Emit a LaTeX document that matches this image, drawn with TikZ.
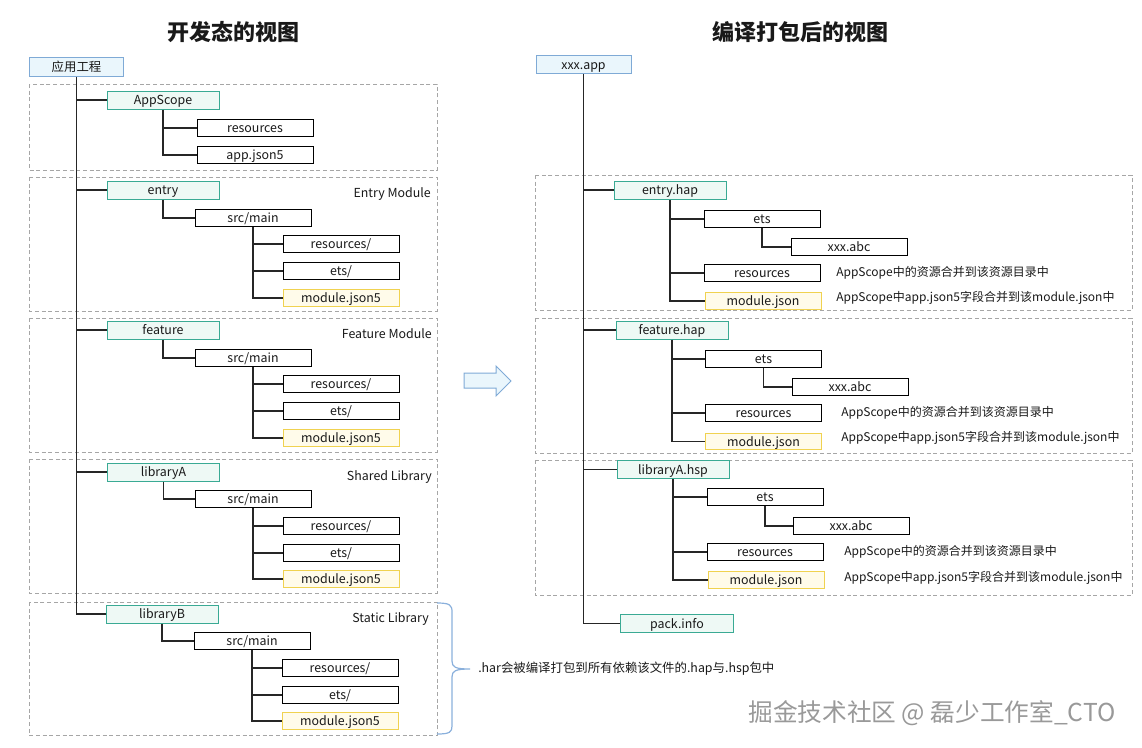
\documentclass[tikz,border=0pt]{standalone}
\usepackage{fontspec}
\setmainfont{Noto Sans CJK SC}
\definecolor{tealc}{HTML}{3AAA94}
\definecolor{greenf}{HTML}{EEF9F5}
\definecolor{yelc}{HTML}{F0D250}
\definecolor{yelf}{HTML}{FFFBEA}
\definecolor{bluec}{HTML}{7FAAD6}
\definecolor{bluef}{HTML}{EAF6FC}
\definecolor{bracec}{HTML}{8AB0DC}
\begin{document}
\begin{tikzpicture}[x=0.75pt,y=-0.75pt,
  every node/.style={font=\fontsize{9.3}{11}\selectfont, inner sep=0pt, text=black!90},
  boxtext/.style={text height=8pt, text depth=0.8pt},
  wbox/.style={boxtext, draw=black, fill=white, line width=0.75pt, minimum width=87pt, minimum height=12.5pt},
  gbox/.style={boxtext, draw=tealc, fill=greenf, line width=0.75pt, minimum width=84pt, minimum height=13.5pt},
  ybox/.style={boxtext, draw=yelc, fill=yelf, line width=0.75pt, minimum width=87pt, minimum height=12.5pt},
  bbox/.style={boxtext, draw=bluec, fill=bluef, line width=0.75pt, minimum height=14pt},
  grp/.style={draw=black!35, line width=0.6pt, dash pattern=on 3pt off 2pt},
  conn/.style={draw=black!85, line width=0.8pt},
  grplabel/.style={anchor=east},
  note/.style={anchor=west, font=\fontsize{9}{11}\selectfont},
  title/.style={font=\fontsize{16.5}{18}\selectfont\bfseries}
]
\useasboundingbox (0,0) rectangle (1142,747);

% titles
\node[title] (t1) at (233,32) {开发态的视图};
\node[title] (t2) at (800,32) {编译打包后的视图};

% ---------- left side ----------
\draw[grp] (29,84) rectangle (437,170);
\draw[grp] (29,177) rectangle (437,311);
\draw[grp] (29,318) rectangle (437,452);
\draw[grp] (29,459) rectangle (437,593);
\draw[grp] (29,602) rectangle (437,735);

\node[bbox, minimum width=70.5pt] (root) at (76.5,67) {应用工程};

% AppScope
\node[gbox] (appscope) at (163,100) {AppScope};
\node[wbox] (res1) at (255,128) {resources};
\node[wbox] (appjson) at (255,155) {app.json5};

% entry
\node[grplabel] (lbl1) at (431,194) {Entry Module};
\node[gbox] (entry) at (163,190) {entry};
\node[wbox] (src1) at (253,218) {src/main};
\node[wbox] (resd1) at (341,244) {resources/};
\node[wbox] (ets1) at (341,271) {ets/};
\node[ybox] (mod1) at (341,298) {module.json5};

% feature
\node[grplabel] (lbl2) at (432,334) {Feature Module};
\node[gbox] (feature) at (163,330) {feature};
\node[wbox] (src2) at (253,358) {src/main};
\node[wbox] (resd2) at (341,384) {resources/};
\node[wbox] (ets2) at (341,411) {ets/};
\node[ybox] (mod2) at (341,438) {module.json5};

% libraryA
\node[grplabel] (lbl3) at (432,477) {Shared Library};
\node[gbox] (libA) at (163.5,472) {libraryA};
\node[wbox] (src3) at (253,499) {src/main};
\node[wbox] (resd3) at (341,526) {resources/};
\node[wbox] (ets3) at (341,553) {ets/};
\node[ybox] (mod3) at (341,579) {module.json5};

% libraryB
\node[grplabel] (lbl4) at (429,619) {Static Library};
\node[gbox] (libB) at (162,614) {libraryB};
\node[wbox] (src4) at (252,641) {src/main};
\node[wbox] (resd4) at (340,668) {resources/};
\node[wbox] (ets4) at (340,695) {ets/};
\node[ybox] (mod4) at (340,721) {module.json5};

% left connectors
\draw[conn] (root.south) |- (libB.west);
\foreach \m in {appscope,entry,feature,libA}
  \draw[conn] (root.south |- \m.west) -- (\m.west);
\draw[conn] (appscope.south) |- (appjson.west);
\draw[conn] (appscope.south |- res1.west) -- (res1.west);
\foreach \a/\s/\r/\e/\mm in {entry/src1/resd1/ets1/mod1, feature/src2/resd2/ets2/mod2, libA/src3/resd3/ets3/mod3, libB/src4/resd4/ets4/mod4}{
  \draw[conn] (\a.south) |- (\s.west);
  \draw[conn] (\s.south) |- (\mm.west);
  \draw[conn] (\s.south |- \r.west) -- (\r.west);
  \draw[conn] (\s.south |- \e.west) -- (\e.west);
}

% brace + note
\draw[draw=bracec, line width=0.9pt]
  (437,603) .. controls (450,603) and (452,605) .. (452,612)
  -- (452,661) .. controls (452,667) and (455,669) .. (470,669)
  .. controls (455,669) and (452,671) .. (452,677)
  -- (452,726) .. controls (452,732) and (450,734) .. (437,734);
\node[note, font=\fontsize{9.3}{11}\selectfont] (harnote) at (478,669) {.har会被编译打包到所有依赖该文件的.hap与.hsp包中};

% middle arrow
\draw[draw=bluec, fill=bluef, line width=0.75pt]
  (464,373) -- (496,373) -- (496,366) -- (511,381) -- (496,396) -- (496,388) -- (464,388) -- cycle;

% ---------- right side ----------
\draw[grp] (535,175) rectangle (1132,310);
\draw[grp] (535,318) rectangle (1132,453);
\draw[grp] (535,460) rectangle (1132,595);

\node[bbox, minimum width=71.25pt] (app) at (583.5,64.5) {xxx.app};

% entry.hap
\node[gbox] (entryhap) at (670,190) {entry.hap};
\node[wbox] (etsA) at (762,219) {ets};
\node[wbox] (abcA) at (849,247) {xxx.abc};
\node[wbox] (resA) at (762,273) {resources};
\node[ybox] (modA) at (763,301) {module.json};
\node[note] (nA1) at (836,273) {AppScope中的资源合并到该资源目录中};
\node[note] (nA2) at (836,298) {AppScope中app.json5字段合并到该module.json中};

% feature.hap
\node[gbox] (featurehap) at (672,330) {feature.hap};
\node[wbox] (etsB) at (763.5,359) {ets};
\node[wbox] (abcB) at (850,387) {xxx.abc};
\node[wbox] (resB) at (763.5,413) {resources};
\node[ybox] (modB) at (763.5,441.5) {module.json};
\node[note] (nB1) at (841,413) {AppScope中的资源合并到该资源目录中};
\node[note] (nB2) at (841,438) {AppScope中app.json5字段合并到该module.json中};

% libraryA.hsp
\node[gbox] (libAhsp) at (673,469.5) {libraryA.hsp};
\node[wbox] (etsC) at (765,497) {ets};
\node[wbox] (abcC) at (851,526) {xxx.abc};
\node[wbox] (resC) at (765,552) {resources};
\node[ybox] (modC) at (766,580) {module.json};
\node[note] (nC1) at (844,552) {AppScope中的资源合并到该资源目录中};
\node[note] (nC2) at (844,578) {AppScope中app.json5字段合并到该module.json中};

% pack.info
\node[gbox, minimum width=85pt] (pack) at (677,623.5) {pack.info};

% right connectors
\draw[conn] (app.south) |- (pack.west);
\foreach \m in {entryhap,featurehap,libAhsp}
  \draw[conn] (app.south |- \m.west) -- (\m.west);
\foreach \h/\e/\b/\r/\mm in {entryhap/etsA/abcA/resA/modA, featurehap/etsB/abcB/resB/modB, libAhsp/etsC/abcC/resC/modC}{
  \draw[conn] (\h.south) |- (\mm.west);
  \draw[conn] (\h.south |- \e.west) -- (\e.west);
  \draw[conn] (\h.south |- \r.west) -- (\r.west);
  \draw[conn] (\e.south) |- (\b.west);
}

% watermark
\node[font=\fontsize{18.5}{20}\selectfont, text=black!40] (wm) at (932,713) {掘金技术社区 @ 磊少工作室\_CTO};
\end{tikzpicture}
\end{document}
